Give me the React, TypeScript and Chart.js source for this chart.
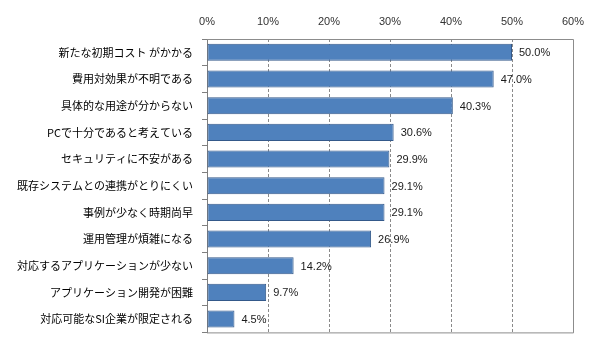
import React, { useEffect, useRef } from "react";
import { Chart, registerables } from "chart.js";

Chart.register(...registerables);

const categories = [
  "新たな初期コスト がかかる",
  "費用対効果が不明である",
  "具体的な用途が分からない",
  "PCで十分であると考えている",
  "セキュリティに不安がある",
  "既存システムとの連携がとりにくい",
  "事例が少なく時期尚早",
  "運用管理が煩雑になる",
  "対応するアプリケーションが少ない",
  "アプリケーション開発が困難",
  "対応可能なSI企業が限定される",
];

const values = [50.0, 47.0, 40.3, 30.6, 29.9, 29.1, 29.1, 26.9, 14.2, 9.7, 4.5];

const axisMin = 0;
const axisMax = 60;
const axisStep = 10;

const JP_FONT = "'Noto Sans CJK JP', 'Noto Sans', sans-serif";
const NUM_FONT = "'Liberation Sans', Arial, sans-serif";

// Solid frame on top, right and bottom of the plot area
const framePlugin = {
  id: "frame",
  afterDatasetsDraw(chart: any) {
    const { ctx, chartArea } = chart;
    const { left, right, top, bottom } = chartArea;
    ctx.save();
    ctx.strokeStyle = "#8c8c8c";
    ctx.lineWidth = 1;
    ctx.beginPath();
    ctx.moveTo(left, top + 0.5);
    ctx.lineTo(right + 0.5, top + 0.5);
    ctx.lineTo(right + 0.5, bottom + 0.5);
    ctx.lineTo(left, bottom + 0.5);
    ctx.stroke();
    ctx.restore();
  },
};

// Value labels at the end of each bar
const valueLabelPlugin = {
  id: "valueLabels",
  afterDatasetsDraw(chart: any) {
    const { ctx } = chart;
    const meta = chart.getDatasetMeta(0);
    ctx.save();
    ctx.font = `11px ${NUM_FONT}`;
    ctx.fillStyle = "#1a1a1a";
    ctx.textAlign = "left";
    ctx.textBaseline = "middle";
    meta.data.forEach((bar: any, i: number) => {
      ctx.fillText(values[i].toFixed(1) + "%", bar.x + 7, bar.y + 1);
    });
    ctx.restore();
  },
};

export default function App() {
  const canvasRef = useRef<HTMLCanvasElement | null>(null);

  useEffect(() => {
    if (!canvasRef.current) return;
    const chart = new Chart(canvasRef.current, {
      type: "bar",
      data: {
        labels: categories,
        datasets: [
          {
            data: values,
            backgroundColor: "#4f81bd",
            borderColor: "#34598a",
            borderWidth: 1,
            borderSkipped: false,
            categoryPercentage: 1,
            barPercentage: 0.64,
          },
        ],
      },
      options: {
        indexAxis: "y",
        animation: false,
        responsive: false,
        maintainAspectRatio: false,
        layout: { padding: { left: 0, right: 17, top: 0, bottom: 15 } },
        plugins: {
          legend: { display: false },
          tooltip: { enabled: false },
        },
        scales: {
          x: {
            position: "top",
            min: axisMin,
            max: axisMax,
            afterFit(scale: any) {
              scale.height = 39;
              scale.paddingLeft = 0;
              scale.paddingRight = 0;
            },
            ticks: {
              stepSize: axisStep,
              padding: 10,
              color: "#333333",
              font: { family: NUM_FONT, size: 11 },
              callback: (v: any) => v + "%",
            },
            grid: {
              drawTicks: false,
              color: (c: any) =>
                c.tick && (c.tick.value === axisMin || c.tick.value === axisMax)
                  ? "rgba(0,0,0,0)"
                  : "#8a8a8a",
              lineWidth: 1,
            },
            border: { display: false, dash: [3, 2] },
          },
          y: {
            afterFit(scale: any) {
              scale.width = 207;
            },
            ticks: {
              padding: 9,
              color: "#000000",
              font: { family: JP_FONT, size: 11 },
              autoSkip: false,
            },
            grid: {
              offset: true,
              drawOnChartArea: false,
              drawTicks: true,
              tickLength: 5,
              color: "#7f7f7f",
            },
            border: { display: true, color: "#7f7f7f", width: 1 },
          },
        },
      },
      plugins: [framePlugin, valueLabelPlugin],
    } as any);
    return () => chart.destroy();
  }, []);

  return (
    <div style={{ position: "fixed", left: 0, top: 0, width: 590, height: 348, background: "#ffffff" }}>
      <canvas ref={canvasRef} width={590} height={348} />
    </div>
  );
}
